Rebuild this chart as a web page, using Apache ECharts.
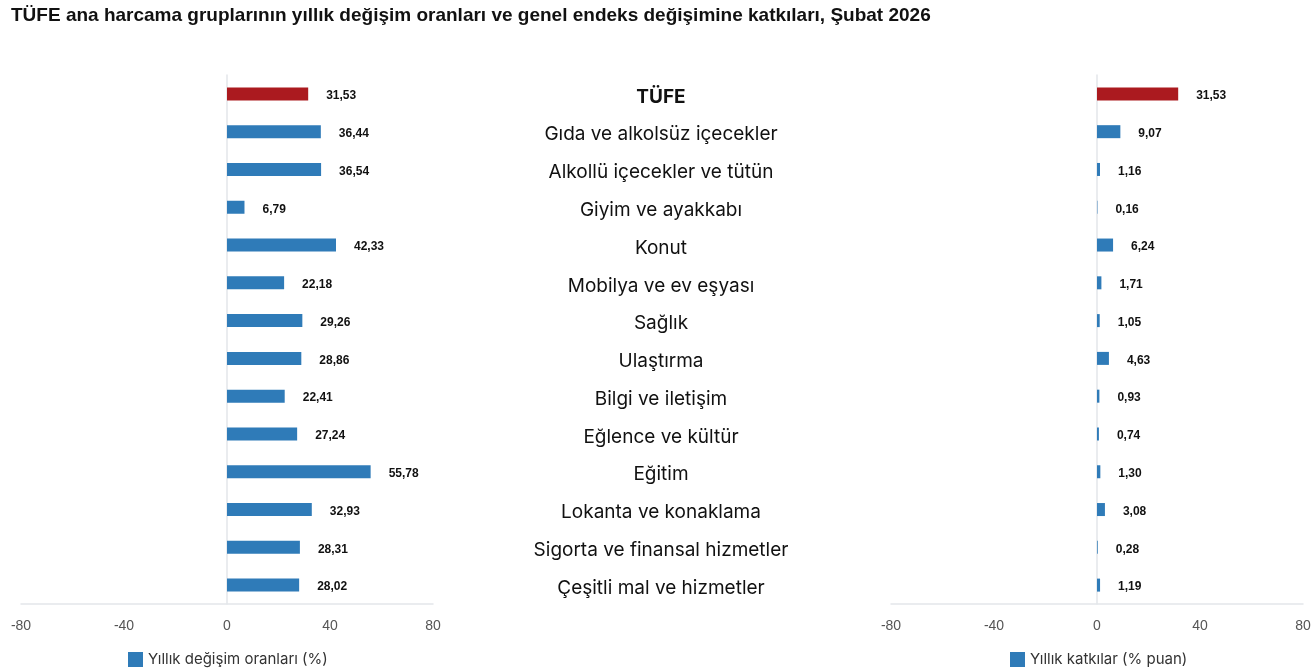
<!DOCTYPE html>
<html>
<head>
<meta charset="utf-8">
<title>TÜFE</title>
<script src="https://cdn.jsdelivr.net/npm/echarts@6/dist/echarts.min.js"></script>
<style>
  html, body { margin: 0; padding: 0; background: #fff; }
  #main { width: 1315px; height: 669px; }
</style>
</head>
<body>
<div id="main"></div>
<script>
// ana harcama grupları
var categories = ['TÜFE', 'Gıda ve alkolsüz içecekler', 'Alkollü içecekler ve tütün', 'Giyim ve ayakkabı',
  'Konut', 'Mobilya ve ev eşyası', 'Sağlık', 'Ulaştırma', 'Bilgi ve iletişim', 'Eğlence ve kültür',
  'Eğitim', 'Lokanta ve konaklama', 'Sigorta ve finansal hizmetler', 'Çeşitli mal ve hizmetler'];
var yillikDegisim = [31.53, 36.44, 36.54, 6.79, 42.33, 22.18, 29.26, 28.86, 22.41, 27.24, 55.78, 32.93, 28.31, 28.02];
var yillikKatki = [31.53, 9.07, 1.16, 0.16, 6.24, 1.71, 1.05, 4.63, 0.93, 0.74, 1.30, 3.08, 0.28, 1.19];
var xTicks = [-80, -40, 0, 40, 80];

var RED = '#ab1a1f', BLUE = '#2f7bb8';

function barData(arr) {
  return arr.map(function(v, i) {
    return { value: v, itemStyle: { color: i === 0 ? RED : BLUE } };
  });
}
function fmt(p) { return p.value.toFixed(2).replace('.', ','); }

function valueAxis(idx) {
  return {
    type: 'value', gridIndex: idx, min: xTicks[0], max: xTicks[xTicks.length - 1], interval: 40,
    splitLine: { show: false },
    axisLine: { show: true, onZero: false, lineStyle: { color: '#e3e6ea', width: 1.5 } },
    axisTick: { show: false },
    axisLabel: { color: '#555', fontSize: 14, fontFamily: 'Liberation Sans, Arial', margin: 15 }
  };
}
function zeroAxis(idx) {
  return {
    type: 'category', gridIndex: idx, data: categories, inverse: true,
    axisLine: { show: true, onZero: true, lineStyle: { color: '#e3e6ea', width: 1.5 } },
    axisTick: { show: false }, axisLabel: { show: false }
  };
}
function barSeries(idx, name, arr) {
  return {
    type: 'bar', name: name, xAxisIndex: idx, yAxisIndex: idx === 0 ? 0 : 2,
    data: barData(arr), barWidth: 13,
    label: {
      show: true, position: 'right', distance: 18, offset: [0, 2], formatter: fmt,
      fontFamily: 'Liberation Sans, Arial', fontWeight: 'bold', fontSize: 12, color: '#111'
    }
  };
}

var chart = echarts.init(document.getElementById('main'));
chart.setOption({
  animation: false,
  title: {
    text: 'TÜFE ana harcama gruplarının yıllık değişim oranları ve genel endeks değişimine katkıları, Şubat 2026',
    left: 6, top: 1,
    textStyle: { fontFamily: 'Liberation Sans, Arial', fontWeight: 'bold', fontSize: 19, color: '#111' }
  },
  legend: [
    {
      data: ['Yıllık değişim oranları (%)'], left: 123, top: 647, icon: 'rect',
      itemWidth: 15, itemHeight: 15, itemGap: 6,
      textStyle: { fontFamily: 'Inter', fontSize: 15, color: '#333' }
    },
    {
      data: ['Yıllık katkılar (% puan)'], left: 1005, top: 647, icon: 'rect',
      itemWidth: 15, itemHeight: 15, itemGap: 6,
      textStyle: { fontFamily: 'Inter', fontSize: 15, color: '#333' }
    }
  ],
  grid: [
    { left: 21, width: 412, top: 75, height: 529 },
    { left: 891, width: 412, top: 75, height: 529 }
  ],
  xAxis: [valueAxis(0), valueAxis(1)],
  yAxis: [
    zeroAxis(0),
    {
      type: 'category', gridIndex: 0, data: categories, inverse: true, position: 'right',
      axisLine: { show: false }, axisTick: { show: false },
      axisLabel: {
        margin: 228, align: 'center', fontFamily: 'Inter', fontSize: 19, color: '#111',
        padding: [6, 0, 0, 0],
        formatter: function(v) { return v === 'TÜFE' ? '{b|' + v + '}' : v; },
        rich: { b: { fontFamily: 'Inter', fontSize: 19, fontWeight: 'bold', color: '#111' } }
      }
    },
    zeroAxis(1)
  ],
  series: [
    barSeries(0, 'Yıllık değişim oranları (%)', yillikDegisim),
    barSeries(1, 'Yıllık katkılar (% puan)', yillikKatki)
  ],
  color: [BLUE, BLUE]
});
</script>
</body>
</html>
